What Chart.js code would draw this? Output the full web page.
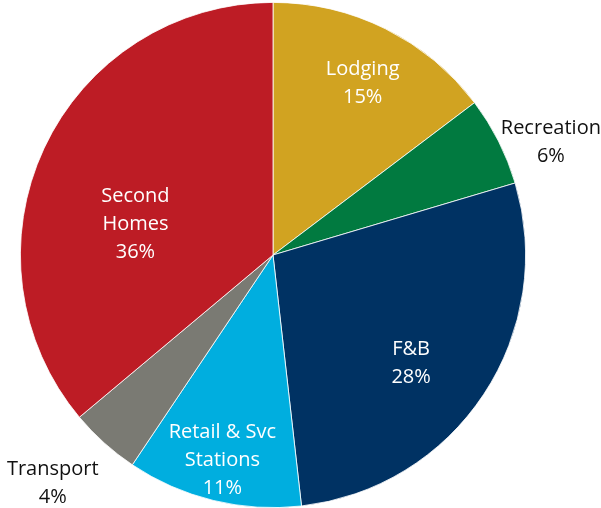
<!DOCTYPE html>
<html><head><meta charset="utf-8">
<script src="https://cdn.jsdelivr.net/npm/chart.js@4/dist/chart.umd.min.js"></script>
<style>html,body{margin:0;padding:0;background:#fff}#w{width:601px;height:508px}</style>
</head><body><div id="w"><canvas id="c" width="601" height="508"></canvas></div>
<script>
const categories = ["Lodging", "Recreation", "F&B", "Retail & Svc Stations", "Transport", "Second Homes"];
const shares = [14.7, 5.7, 27.8, 11.2, 4.5, 36.1];
const labelLines = [["Lodging","15%"],["Recreation","6%"],["F&B","28%"],["Retail & Svc","Stations","11%"],["Transport","4%"],["Second","Homes","36%"]];
const colors = ["#D1A321","#017A40","#003263","#00AEDF","#7A7A73","#BD1C25"];
const labelColors = ["#fff","#111","#fff","#fff","#111","#fff"];
// label placement: radius fraction and angle tweak (deg)
const labelR = [0.775, 1.19, 0.69, 0.83, 1.25, 0.56];
const labelDA = [0.8, 4.4, 4.1, 0.3, 2.3, -11.6];

const labelPlugin = {
  id: 'lbls',
  afterDatasetsDraw(chart) {
    const ctx = chart.ctx;
    const meta = chart.getDatasetMeta(0);
    ctx.save();
    ctx.font = '20px "Open Sans", sans-serif';
    ctx.textAlign = 'center';
    ctx.textBaseline = 'middle';
    meta.data.forEach((arc, i) => {
      const p = arc.getProps(['x','y','startAngle','endAngle','outerRadius'], true);
      const a = (p.startAngle + p.endAngle) / 2 + labelDA[i] * Math.PI / 180;
      const r = p.outerRadius * labelR[i];
      const cx = p.x + Math.cos(a) * r, cy = p.y + Math.sin(a) * r + 2;
      const lines = labelLines[i];
      const lh = 28;
      ctx.fillStyle = labelColors[i];
      lines.forEach((t, k) => {
        ctx.fillText(t, cx, cy + (k - (lines.length - 1) / 2) * lh);
      });
    });
    ctx.restore();
  }
};

new Chart(document.getElementById('c'), {
  type: 'pie',
  data: { labels: categories, datasets: [{ data: shares, backgroundColor: colors, borderColor: '#fff', borderWidth: 0.8 }] },
  options: {
    responsive: false, animation: false, devicePixelRatio: 1,
    layout: { padding: { left: 20, right: 75, top: 2, bottom: 0 } },
    plugins: { legend: { display: false }, tooltip: { enabled: false } }
  },
  plugins: [labelPlugin]
});
</script></body></html>
